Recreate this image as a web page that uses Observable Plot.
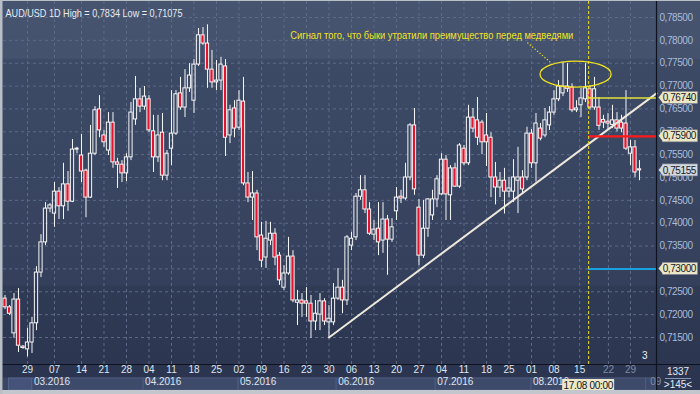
<!DOCTYPE html>
<html><head><meta charset="utf-8">
<script src="https://cdn.jsdelivr.net/npm/d3@7"></script>
<script src="https://cdn.jsdelivr.net/npm/@observablehq/plot@0.6"></script>
<style>html,body{margin:0;padding:0;background:#2c3651;overflow:hidden}#chart svg{display:block}</style>
</head><body><div id="chart"></div>
<script>
// ---- data (AUD/USD daily candles) ----
const openP = [.7235,.7216,.7159,.7233,.7130,.7124,.7139,.7181,.7292,.7358,
.7432,.7421,.7469,.7437,.7485,.7447,.7561,.7548,.7515,.7456,
.7552,.7649,.7592,.7559,.7620,.7533,.7528,.7509,.7544,.7627,
.7671,.7655,.7671,.7601,.7544,.7598,.7504,.7563,.7596,.7684,
.7653,.7695,.7668,.7747,.7811,.7793,.7736,.7708,.7712,.7743,
.7592,.7651,.7609,.7666,.7487,.7456,.7465,.7373,.7325,.7362,
.7377,.7329,.7259,.7290,.7327,.7226,.7231,.7229,.7224,.7185,
.7200,.7229,.7183,.7183,.7235,.7259,.7231,.7351,.7369,.7458,
.7472,.7430,.7375,.7388,.7362,.7408,.7364,.7426,.7458,.7454,
.7500,.7614,.7434,.7329,.7388,.7417,.7452,.7463,.7539,.7461,
.7520,.7480,.7563,.7531,.7631,.7625,.7620,.7592,.7587,.7500,
.7478,.7493,.7469,.7469,.7493,.7500,.7500,.7596,.7531,.7607,
.7592,.7614,.7642,.7671,.7684,.7699,.7697,.7647,.7658,.7671,
.7693,.7653,.7653,.7626,.7622,.7615,.7625,.7620,.7618,.7552,
.7566,.7518];
const highP = [.7242,.7220,.7246,.7257,.7132,.7170,.7194,.7305,.7375,.7445,
.7443,.7489,.7478,.7531,.7513,.7583,.7566,.7594,.7518,.7614,
.7655,.7679,.7603,.7642,.7642,.7542,.7537,.7552,.7664,.7721,
.7695,.7699,.7679,.7636,.7636,.7640,.7559,.7690,.7690,.7719,
.7736,.7749,.7758,.7826,.7828,.7834,.7778,.7756,.7763,.7758,
.7658,.7668,.7690,.7719,.7511,.7513,.7472,.7402,.7404,.7402,
.7388,.7336,.7307,.7369,.7340,.7253,.7246,.7259,.7242,.7231,
.7246,.7235,.7220,.7268,.7301,.7275,.7373,.7380,.7465,.7504,
.7504,.7445,.7406,.7445,.7445,.7417,.7410,.7478,.7472,.7531,
.7618,.7651,.7452,.7450,.7454,.7472,.7504,.7552,.7548,.7526,
.7531,.7574,.7570,.7658,.7651,.7675,.7625,.7640,.7598,.7533,
.7511,.7520,.7500,.7539,.7566,.7515,.7610,.7605,.7640,.7618,
.7651,.7655,.7690,.7712,.7752,.7749,.7705,.7668,.7695,.7749,
.7701,.7719,.7675,.7636,.7640,.7658,.7642,.7636,.7690,.7581,
.7581,.7537];
const lowP = [.7211,.7198,.7148,.7117,.7124,.71075,.7115,.7165,.7281,.7351,
.7423,.7391,.7408,.7408,.7426,.7445,.7552,.7489,.7412,.7454,
.7548,.7587,.7566,.7548,.7520,.7476,.7489,.7491,.7537,.7614,
.7642,.7647,.7598,.7511,.7533,.7493,.7493,.7526,.7592,.7647,
.7631,.7686,.7640,.7743,.7789,.7695,.7695,.7690,.7690,.7546,
.7574,.7587,.7603,.7482,.7445,.7406,.7340,.7303,.7301,.7351,
.7307,.7264,.7253,.7286,.7226,.7176,.7194,.7194,.7148,.7165,
.7165,.7176,.7150,.7176,.7231,.7202,.7220,.7340,.7362,.7450,
.7421,.7373,.7362,.7329,.7334,.7286,.7358,.7406,.7443,.7450,
.7493,.7461,.7307,.7323,.7369,.7406,.7434,.7461,.7406,.7406,
.7478,.7476,.7526,.7526,.7598,.7570,.7550,.7524,.7456,.7440,
.7456,.7420,.7455,.7445,.7421,.7465,.7493,.7520,.7490,.7580,
.7587,.7603,.7636,.7666,.7677,.7686,.7642,.7642,.7631,.7664,
.7647,.7647,.7603,.7607,.7605,.7607,.7600,.7598,.7559,.7526,
.7500,.7493];
const closeP = [.7216,.7202,.7233,.7132,.7127,.7139,.7181,.7292,.7358,.7432,
.7439,.7469,.7437,.7485,.7447,.7561,.7563,.7513,.7456,.7552,
.7647,.7603,.7577,.7620,.7533,.7528,.7509,.7544,.7642,.7671,
.7655,.7677,.7603,.7544,.7592,.7504,.7552,.7596,.7682,.7653,
.7695,.7723,.7747,.7811,.7793,.7736,.7708,.7712,.7747,.7587,
.7647,.7607,.7668,.7487,.7456,.7465,.7369,.7318,.7366,.7377,
.7325,.7275,.7290,.7327,.7231,.7231,.7224,.7224,.7185,.7202,
.7229,.7185,.7191,.7235,.7259,.7231,.7369,.7366,.7458,.7472,
.7430,.7377,.7386,.7358,.7408,.7364,.7391,.7456,.7454,.7500,
.7614,.7474,.7329,.7388,.7452,.7452,.7496,.7539,.7463,.7520,
.7480,.7570,.7531,.7631,.7607,.7587,.7577,.7577,.7500,.7478,
.7493,.7469,.7476,.7500,.7500,.7474,.7596,.7531,.7618,.7585,
.7625,.7642,.7671,.7699,.7699,.7694,.7647,.7651,.7673,.7695,
.7653,.7693,.7613,.7620,.7618,.7625,.7607,.7607,.7563,.7566,
.7511,.75155];

const yTicks = [0.715,0.72,0.725,0.73,0.735,0.74,0.745,0.75,0.755,0.76,0.765,0.77,0.775,0.78,0.785];
const dayTickIdx = [5,11,17,22,27,32,37,42,47,52,57,62,67,72,77,82,87,92,97,102,107,112,117,122,127.7,134.1,139];
const dayTickLabels = ["29","07","14","21","28","04","11","18","25","02","09","16","23","30","06","13","20","27","04","11","18","25","01","08","15","22","29"];
const monthStartIdx = [6.1,30.8,51.9,73.7,95.7,117,142.5];
const monthLabels = ["03.2016","04.2016","05.2016","06.2016","07.2016","08.2016","09"];
const trendIdx = [72, 144.78];
const trendPrice = [0.7150, 0.7684];
const levelValues = [0.7674, 0.7590, 0.7300];
const lastPrice = 0.75155;
const cursorIdx = 129.7;
const cursorLabel = "17.08 00:00";
const titleText = "AUD/USD 1D High = 0,7834 Low = 0,71075";
const noteText = "Сигнал того, что быки утратили преимущество перед медведями";
const noteIdx = 63.4, notePrice = 0.7811;
const pointerIdx = [116.1, 121.2], pointerPrice = [0.7795, 0.7752];
const ringIdx = 126.9, ringPrice = 0.7725, ringHalfIdx = 7.9, ringHalfPrice = 0.00284;

// ---- derived tables ----
const candles = openP.map((o, i) => ({i, o, h: highP[i], l: lowP[i], c: closeP[i]}));
const bull = candles.filter(d => d.c >= d.o);
const bear = candles.filter(d => d.c < d.o);
const trend = trendIdx.map((i, k) => ({i, p: trendPrice[k]}));
const fmt5 = p => p.toFixed(5).replace(".", ",");
const axisLabelTicks = yTicks.filter(v => !levelValues.includes(v));
const X_MAX = 144.78;
const W = 700, H = 394, ML = 3, MR = 44, MT = 1, MB = 30;
const XR = W - MR, Y0 = H - MB;
const WHITE = "#f6f6f6", RED = "#e5142e", GRID = "#5d6b89", YEL = "#f2e41e";

const ringMark = (index, scales) => {
  const g = d3.create("svg:g");
  const cx = scales.x(ringIdx), cy = scales.y(ringPrice);
  g.append("ellipse").attr("cx", cx).attr("cy", cy)
    .attr("rx", scales.x(ringIdx + ringHalfIdx) - cx)
    .attr("ry", scales.y(ringPrice - ringHalfPrice) - cy)
    .attr("fill", "none").attr("stroke", YEL).attr("stroke-width", 1.3);
  return g.node();
};

const axisBands = (index, scales) => {
  const g = d3.create("svg:g");
  g.append("rect").attr("x", 0).attr("y", Y0).attr("width", W).attr("height", MB).attr("fill", "#2b3550");
  g.append("rect").attr("x", 3).attr("y", Y0 + 13.5).attr("width", XR - 3).attr("height", 13).attr("fill", "#3a4664");
  const starts = monthStartIdx.map(v => scales.x(v));
  g.append("rect").attr("x", 8.5).attr("y", Y0 + 14).attr("width", starts[0] - 9).attr("height", 12)
    .attr("fill", "#45527a").attr("stroke", "#56648a");
  starts.forEach((x, k) => {
    const x2 = k < starts.length - 1 ? starts[k + 1] : XR;
    g.append("rect").attr("x", x).attr("y", Y0 + 14).attr("width", Math.max(0, x2 - x)).attr("height", 12)
      .attr("fill", "#3e4a6a").attr("stroke", "#52608a").attr("stroke-width", 0.8);
  });
  return g.node();
};

const overlay = (index, scales) => {
  const g = d3.create("svg:g");
  const tags = [
    {p: levelValues[0], bg: "#ebe6c6"},
    {p: levelValues[1], bg: "#ebe6c6"},
    {p: lastPrice, bg: "#d2d7df"},
    {p: levelValues[2], bg: "#ebe6c6"}
  ];
  for (const t of tags) {
    const y = scales.y(t.p);
    g.append("rect").attr("x", XR + 6.5).attr("y", y - 6).attr("width", 35).attr("height", 12)
      .attr("fill", t.bg).attr("stroke", "#7d8596").attr("stroke-width", 0.6);
    g.append("path").attr("d", `M${XR + 2.5},${y}L${XR + 7},${y - 5.7}L${XR + 7},${y + 5.7}Z`).attr("fill", t.bg);
    g.append("text").attr("class", "tagtext").attr("x", XR + 40).attr("y", y).attr("dy", "0.36em")
      .attr("text-anchor", "end").attr("fill", "#141a26").attr("font-size", 10)
      .attr("letter-spacing", "-0.4px").text(fmt5(t.p));
  }
  // frame lines
  g.append("line").attr("x1", 0).attr("x2", W).attr("y1", Y0 + 0.5).attr("y2", Y0 + 0.5).attr("stroke", "#0f1320").attr("stroke-width", 1.2);
  g.append("line").attr("x1", XR + 0.5).attr("x2", XR + 0.5).attr("y1", 0).attr("y2", H - 4).attr("stroke", "#0f1320").attr("stroke-width", 1.2);
  // cursor date tag
  const cx = scales.x(cursorIdx);
  g.append("rect").attr("x", cx - 26).attr("y", Y0 + 15).attr("width", 52).attr("height", 12).attr("fill", "#ece8c9");
  g.append("text").attr("x", cx).attr("y", Y0 + 21).attr("dy", "0.36em").attr("text-anchor", "middle")
    .attr("fill", "#10141c").attr("font-size", 10).attr("letter-spacing", "-0.3px").text(cursorLabel);
  // corner box
  g.append("text").attr("x", XR + 22).attr("y", Y0 + 7.5).attr("dy", "0.36em").attr("text-anchor", "middle")
    .attr("fill", "#e4e9f1").attr("font-size", 10).text("1337");
  g.append("line").attr("x1", XR + 9).attr("x2", XR + 35).attr("y1", Y0 + 14.5).attr("y2", Y0 + 14.5).attr("stroke", "#8a97b3");
  g.append("text").attr("x", XR + 22).attr("y", Y0 + 20.5).attr("dy", "0.36em").attr("text-anchor", "middle")
    .attr("fill", "#e4e9f1").attr("font-size", 10).text(">145<");
  // window border
  g.append("rect").attr("x", 0).attr("y", H - 4).attr("width", W).attr("height", 4).attr("fill", "#c3c7cd");
  g.append("rect").attr("x", 0).attr("y", 0).attr("width", 2.5).attr("height", H).attr("fill", "#b9bfc7");
  g.append("rect").attr("x", 0).attr("y", 0).attr("width", W).attr("height", 1).attr("fill", "#b9bfc7");
  return g.node();
};

const chart = Plot.plot({
  width: W, height: H,
  marginLeft: ML, marginRight: MR, marginTop: MT, marginBottom: MB,
  x: {type: "linear", domain: [-0.333, X_MAX], axis: null},
  y: {type: "linear", domain: [0.70909, 0.7885], axis: null},
  style: {
    fontFamily: "'Liberation Sans', Arial, sans-serif", fontSize: "10px", overflow: "hidden",
    background: "linear-gradient(to bottom, #46546f 0px, #44526e 58px, #3d4a66 60px, #3a4763 150px, #37435f 220px, #343f5b 284px, #2f3a55 287px, #2c3651 364px)"
  },
  marks: [
    Plot.ruleY(yTicks, {y: d => d, stroke: GRID, strokeDasharray: "3,3"}),
    Plot.ruleX(dayTickIdx, {x: d => d, stroke: GRID, strokeDasharray: "3,3"}),
    // candles
    Plot.ruleX(candles, {x: "i", y1: "h", y2: d => Math.max(d.o, d.c), stroke: WHITE}),
    Plot.ruleX(candles, {x: "i", y1: d => Math.min(d.o, d.c), y2: "l", stroke: WHITE}),
    Plot.rect(bull, {x1: d => d.i - 0.36, x2: d => d.i + 0.36, y1: "o", y2: "c", fill: "none", stroke: WHITE, strokeWidth: 1}),
    Plot.rect(bear, {x1: d => d.i - 0.36, x2: d => d.i + 0.36, y1: "o", y2: "c", fill: RED, stroke: WHITE, strokeWidth: 1}),
    // trend line
    Plot.line(trend, {x: "i", y: "p", stroke: "#eee9dc", strokeWidth: 2}),
    // levels
    Plot.ruleY([levelValues[0]], {y: d => d, x1: cursorIdx, x2: X_MAX, stroke: "#e3e03c", strokeWidth: 1.6}),
    Plot.ruleY([levelValues[1]], {y: d => d, x1: cursorIdx, x2: X_MAX, stroke: "#ff1a1a", strokeWidth: 2.4}),
    Plot.ruleY([levelValues[2]], {y: d => d, x1: cursorIdx, x2: X_MAX, stroke: "#1ba0e2", strokeWidth: 2}),
    Plot.ruleX([cursorIdx], {x: d => d, stroke: YEL, strokeDasharray: "3,2"}),
    // annotation
    ringMark,
    Plot.link([0], {x1: pointerIdx[0], y1: pointerPrice[0], x2: pointerIdx[1], y2: pointerPrice[1], stroke: YEL, strokeDasharray: "1.2,2", strokeWidth: 1.2}),
    Plot.text([noteText], {x: noteIdx, y: notePrice, text: d => d, textAnchor: "start", fill: YEL, fontSize: 10}),
    Plot.text([titleText], {frameAnchor: "top-left", dx: 2, dy: 7.5, text: d => d, textAnchor: "start", fill: "#e8ecf3", fontSize: 11}),
    Plot.text(["3"], {frameAnchor: "bottom-right", dx: -9, dy: -6, text: d => d, fill: "#eef1f6", fontSize: 10}),
    // bottom axis
    axisBands,
    Plot.text(dayTickIdx.slice(0, 25), {x: d => d, text: (d, i) => dayTickLabels[i], frameAnchor: "bottom", dy: 8, fill: "#dfe5ef", fontSize: 10}),
    Plot.text(dayTickIdx.slice(25), {x: d => d, text: (d, i) => dayTickLabels[25 + i], frameAnchor: "bottom", dy: 8, fill: "#7f8ca6", fontSize: 10}),
    Plot.text(monthStartIdx.slice(0, 6), {x: d => d, text: (d, i) => monthLabels[i], frameAnchor: "bottom", dy: 20.5, dx: 1.5, textAnchor: "start", fill: "#dfe5ef", fontSize: 10}),
    Plot.text(monthStartIdx.slice(6), {x: d => d, text: (d, i) => monthLabels[6 + i], frameAnchor: "bottom", dy: 20.5, dx: 4, textAnchor: "start", fill: "#7f8ca6", fontSize: 10}),
    // right price axis
    Plot.text(axisLabelTicks, {y: d => d, text: d => fmt5(d), frameAnchor: "right", dx: 3, textAnchor: "start", fill: "#a9bcd9", fontSize: 10}),
    overlay
  ]
});
document.getElementById("chart").appendChild(chart);

// text fitting to the widths seen in the picture
function fitText(startsWith, width) {
  d3.select(chart).selectAll("text").each(function() {
    if (this.textContent.startsWith(startsWith)) {
      const tspans = this.querySelectorAll("tspan");
      const target = tspans.length === 1 ? tspans[0] : this;
      target.setAttribute("textLength", width);
      target.setAttribute("lengthAdjust", "spacingAndGlyphs");
    }
  });
}
fitText("Сигнал", 283);
fitText("AUD/USD", 177);
d3.select(chart).selectAll("text").each(function() {
  if (/^0,\d{5}$/.test(this.textContent) && !this.classList.contains("tagtext")) {
    this.setAttribute("letter-spacing", "-0.45px");
  }
});
</script>
</body></html>
